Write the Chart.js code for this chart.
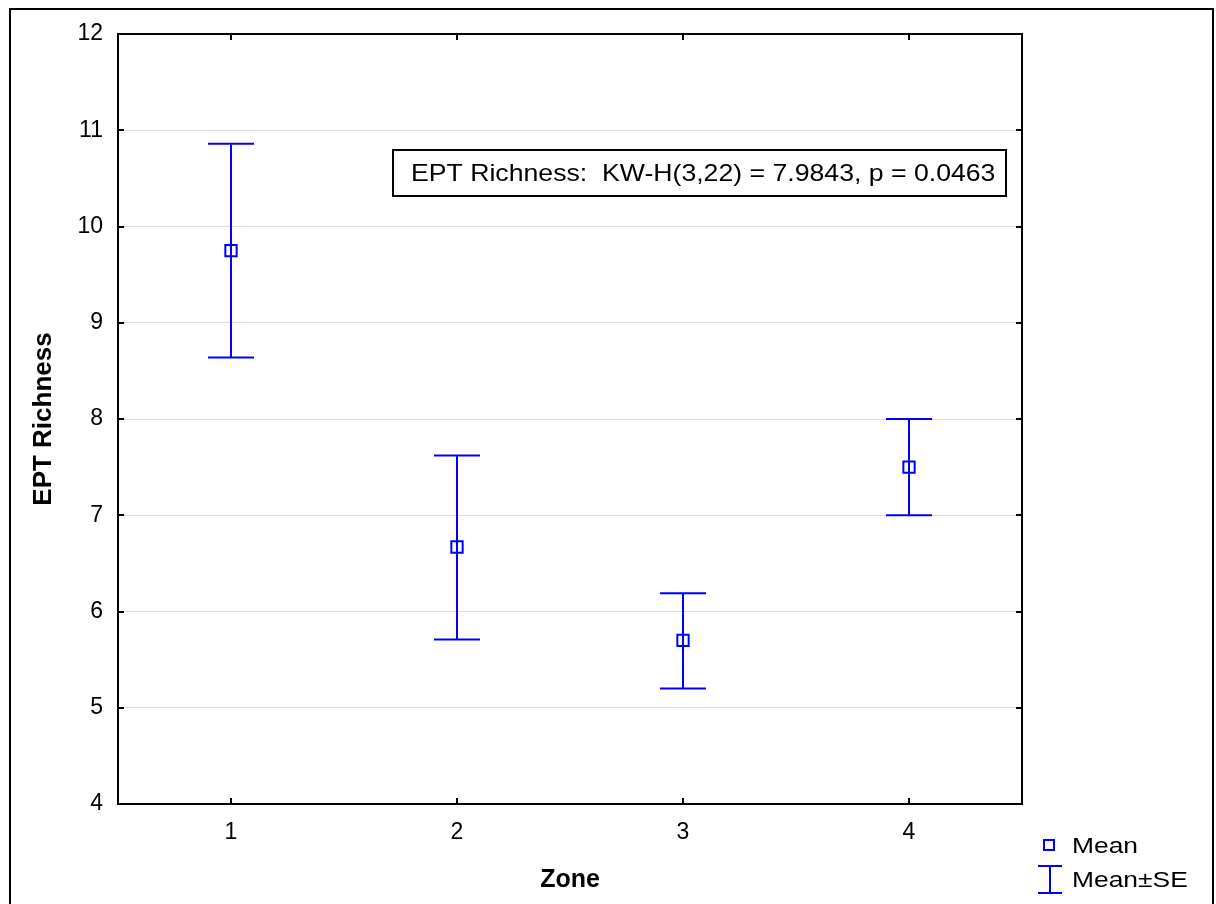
<!DOCTYPE html>
<html>
<head>
<meta charset="utf-8">
<script src="https://cdn.jsdelivr.net/npm/chart.js@4/dist/chart.umd.min.js"></script>
<style>
  html, body { margin: 0; padding: 0; background: #fff; }
  #wrap { width: 1216px; height: 904px; position: relative; }
</style>
</head>
<body>
<div id="wrap"><canvas id="c" width="1216" height="904"></canvas></div>
<script>
const zones = [1, 2, 3, 4];
const zoneLabels = ['1', '2', '3', '4'];
const meanValues = [9.75, 6.67, 5.70, 7.50];
const upperSE = [10.86, 7.62, 6.19, 8.00];
const lowerSE = [8.64, 5.71, 5.20, 7.00];
const yTicks = [4, 5, 6, 7, 8, 9, 10, 11, 12];
const annotationText = 'EPT Richness:  KW-H(3,22) = 7.9843, p = 0.0463';
const xTitle = 'Zone';
const yTitle = 'EPT Richness';
const legendMean = 'Mean';
const legendSE = 'Mean\u00b1SE';

const FONT = '"Liberation Sans", Arial, sans-serif';
const BLUE = '#0000ff';

function stretchedText(ctx, text, x, y, sx) {
  ctx.save();
  ctx.translate(x, y);
  ctx.scale(sx, 1);
  ctx.fillText(text, 0, 0);
  ctx.restore();
}

const framePlugin = {
  id: 'frame',
  beforeDraw(chart) {
    const ctx = chart.ctx;
    ctx.save();
    ctx.fillStyle = '#fff';
    ctx.fillRect(0, 0, chart.width, chart.height);
    ctx.strokeStyle = '#000';
    ctx.lineWidth = 2;
    ctx.beginPath();
    ctx.moveTo(10, 906);
    ctx.lineTo(10, 9);
    ctx.lineTo(1213, 9);
    ctx.lineTo(1213, 906);
    ctx.stroke();
    ctx.restore();
  },
  afterDatasetsDraw(chart) {
    const ctx = chart.ctx;
    const xs = chart.scales.x, ys = chart.scales.y;
    const a = chart.chartArea;
    ctx.save();
    // error bars
    ctx.strokeStyle = BLUE;
    ctx.lineWidth = 2;
    zones.forEach((z, i) => {
      const px = Math.round(xs.getPixelForValue(z));
      const pu = ys.getPixelForValue(upperSE[i]);
      const pl = ys.getPixelForValue(lowerSE[i]);
      ctx.beginPath();
      ctx.moveTo(px, pu); ctx.lineTo(px, pl);
      ctx.moveTo(px - 23, pu); ctx.lineTo(px + 23, pu);
      ctx.moveTo(px - 23, pl); ctx.lineTo(px + 23, pl);
      ctx.stroke();
    });
    // plot box
    ctx.strokeStyle = '#000';
    ctx.lineWidth = 2;
    ctx.strokeRect(a.left, a.top, a.right - a.left, a.bottom - a.top);
    // inward ticks
    ctx.beginPath();
    yTicks.forEach(v => {
      const py = Math.round(ys.getPixelForValue(v));
      ctx.moveTo(a.left, py); ctx.lineTo(a.left + 6, py);
      ctx.moveTo(a.right, py); ctx.lineTo(a.right - 6, py);
    });
    zones.forEach(z => {
      const px = Math.round(xs.getPixelForValue(z));
      ctx.moveTo(px, a.bottom); ctx.lineTo(px, a.bottom - 6);
      ctx.moveTo(px, a.top); ctx.lineTo(px, a.top + 6);
    });
    ctx.stroke();
    // annotation box
    ctx.fillStyle = '#fff';
    ctx.fillRect(393, 150, 613, 46);
    ctx.strokeRect(393, 150, 613, 46);
    ctx.fillStyle = '#000';
    ctx.font = '24px ' + FONT;
    ctx.textBaseline = 'middle';
    ctx.textAlign = 'left';
    stretchedText(ctx, annotationText, 411, 174, 1.11);
    // legend
    ctx.font = '22px ' + FONT;
    ctx.strokeStyle = BLUE;
    ctx.lineWidth = 2;
    ctx.strokeRect(1044, 840, 10, 10);
    ctx.beginPath();
    ctx.moveTo(1050, 866); ctx.lineTo(1050, 893);
    ctx.moveTo(1038, 866); ctx.lineTo(1062, 866);
    ctx.moveTo(1038, 893); ctx.lineTo(1062, 893);
    ctx.stroke();
    ctx.fillStyle = '#000';
    stretchedText(ctx, legendMean, 1072, 847, 1.2);
    stretchedText(ctx, legendSE, 1072, 881, 1.2);
    ctx.restore();
  }
};

new Chart(document.getElementById('c'), {
  type: 'scatter',
  data: {
    datasets: [{
      label: legendMean,
      data: zones.map((z, i) => ({ x: z, y: meanValues[i] })),
      pointStyle: 'rect',
      pointRadius: 8,
      pointHoverRadius: 8,
      pointBorderWidth: 2,
      pointBorderColor: BLUE,
      pointBackgroundColor: 'rgba(0,0,0,0)',
      showLine: false
    }]
  },
  options: {
    responsive: false,
    animation: false,
    devicePixelRatio: 1,
    layout: { padding: { top: 34, right: 194, left: 0, bottom: 0 } },
    plugins: { legend: { display: false }, tooltip: { enabled: false } },
    scales: {
      x: {
        type: 'linear',
        min: 0.5, max: 4.5,
        afterFit(s) { s.height = 100; },
        afterBuildTicks(s) { s.ticks = zones.map(v => ({ value: v })); },
        ticks: {
          color: '#000',
          font: { family: FONT, size: 23 },
          padding: 15,
          callback: (v) => zoneLabels[zones.indexOf(v)] ?? ''
        },
        grid: { display: false, drawTicks: false },
        border: { display: false },
        title: {
          display: true, text: xTitle, color: '#000',
          font: { family: FONT, size: 25, weight: 'bold' },
          padding: { top: 0, bottom: 9 }
        }
      },
      y: {
        min: 4, max: 12,
        afterFit(s) { s.width = 118; },
        afterBuildTicks(s) { s.ticks = yTicks.map(v => ({ value: v })); },
        ticks: {
          color: '#000',
          font: { family: FONT, size: 23 },
          padding: 15
        },
        grid: {
          drawTicks: false,
          lineWidth: 1,
          color: (c) => (c.tick && (c.tick.value === 4 || c.tick.value === 12)) ? 'rgba(0,0,0,0)' : '#dcdcdc'
        },
        border: { display: false },
        title: {
          display: true, text: yTitle, color: '#000',
          font: { family: FONT, size: 26, weight: 'bold' },
          padding: { top: 28, bottom: 0 }
        }
      }
    }
  },
  plugins: [framePlugin]
});
</script>
</body>
</html>
